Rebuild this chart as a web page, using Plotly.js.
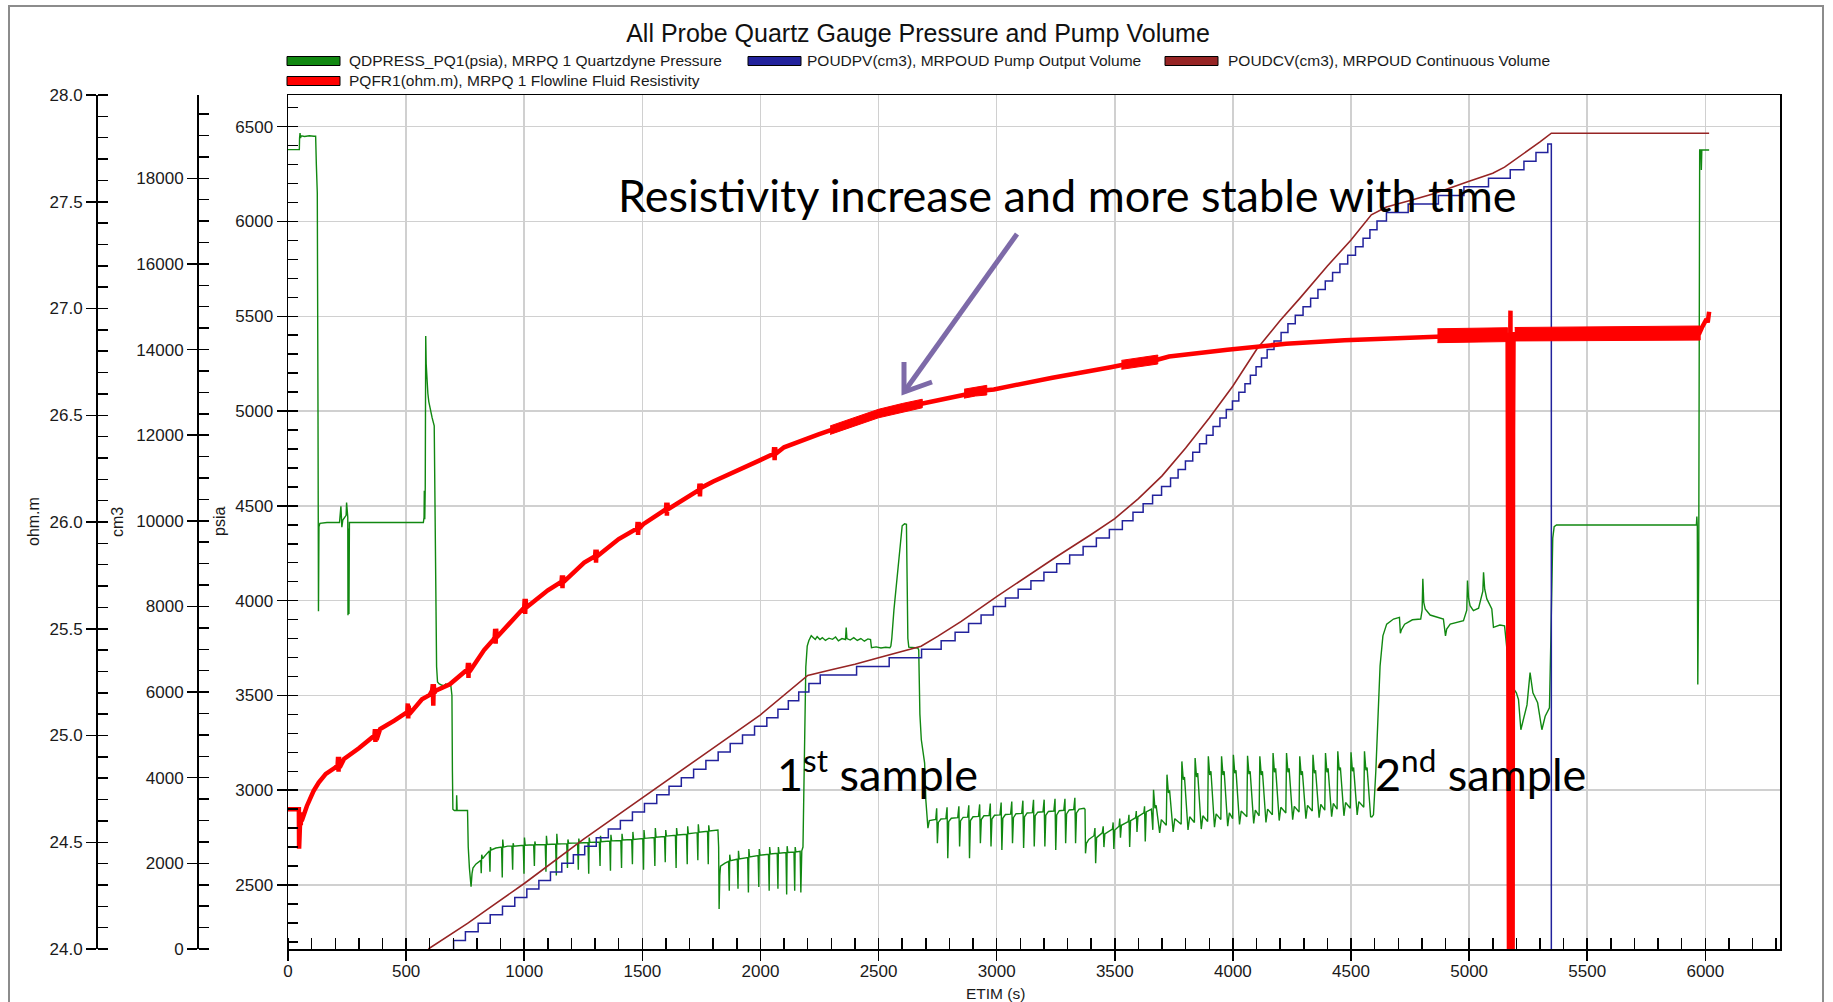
<!DOCTYPE html>
<html><head><meta charset="utf-8">
<script src="https://cdn.plot.ly/plotly-3.0.1.min.js"></script>
<style>html,body{margin:0;padding:0;background:#fff;} #chart{width:1833px;height:1002px;}</style>
</head><body><div id="chart"></div>
<script>
// ---------- DATA ----------
const chartTitle = 'All Probe Quartz Gauge Pressure and Pump Volume';
const seriesNames = [
  'QDPRESS_PQ1(psia), MRPQ 1 Quartzdyne Pressure',
  'POUDPV(cm3), MRPOUD Pump Output Volume',
  'POUDCV(cm3), MRPOUD Continuous Volume',
  'PQFR1(ohm.m), MRPQ 1 Flowline Fluid Resistivity'
];
const axisTitles = {x: 'ETIM (s)', psia: 'psia', cm3: 'cm3', ohm: 'ohm.m'};
const noteTexts = ['Resistivity increase and more stable with time', '1<sup>st</sup> sample', '2<sup>nd</sup> sample'];

// Quartzdyne pressure [time s, psia]
const pressure = [
[0,6379],[48,6379],[49,6440],[51,6466],[53,6440],[56,6452],[70,6448],[90,6452],[110,6450],[117,6450],[120,6300],[124,6150],[127,5000],[129,3944],[131,4390],[135,4408],
[165,4412],[200,4412],[218,4412],[224,4498],[226,4400],[228,4387],[232,4425],[240,4440],[246,4450],[248,4518],[250,4445],[253,4440],[254,3923],[256,4380],[258,3930],[260,4412],[300,4412],[400,4412],[500,4412],[573,4412],[576,4440],[577,4579],[579,4430],[581,4600],[583,5396],[585,5250],[587,5205],[590,5120],[592,5094],[596,5050],[601,5013],[610,4965],[619,4922],[622,4500],[625,4018],[629,3652],[633,3571],[639,3562],
[650,3555],[660,3550],[668,3560],[672,3548],[680,3552],[686,3565],[690,3545],[694,3500],[696,3100],[698,2900],[704,2893],[713,2893],[714,2973],[716,2893],[760,2893],[763,2700],[768,2589],[775,2491],
[779,2560],[783,2589],[795,2610],[811,2625],[816,2630],[818,2562],[820,2660],[824,2640],[840,2661],[852,2680],[855,2570],[857,2700],[860,2685],[880,2695],[904,2700],[907,2540],[909,2740],[912,2700],[930,2705],[948,2705],[951,2580],[953,2720],[956,2705],[975,2708],[996,2710],[999,2560],[1001,2750],[1004,2710],[1020,2712],[1040,2712],[1043,2600],[1045,2730],[1048,2712],[1070,2714],[1089,2714],[1092,2570],[1094,2760],[1097,2714],[1115,2716],[1133,2716],[1136,2550],[1138,2770],[1141,2716],[1160,2718],[1180,2718],[1183,2590],[1185,2740],[1188,2720],[1205,2720],[1226,2722],[1229,2580],[1231,2745],[1234,2722],[1250,2723],[1270,2724],[1273,2560],[1275,2750],[1278,2725],[1300,2726],[1318,2727],[1321,2600],[1323,2760],[1326,2728],[1345,2730],[1362,2732],[1365,2575],[1367,2765],[1370,2733],[1390,2735],[1409,2735],[1412,2590],[1414,2770],[1417,2737],[1435,2738],[1455,2740],[1458,2610],[1460,2780],[1463,2740],[1480,2742],[1502,2745],[1505,2580],[1507,2790],[1510,2746],[1530,2748],[1550,2750],[1553,2600],[1555,2800],[1558,2752],[1575,2754],[1594,2756],[1597,2620],[1599,2790],[1602,2758],[1620,2760],[1640,2762],[1643,2590],[1645,2800],[1648,2764],[1665,2766],[1687,2768],[1690,2610],[1692,2810],[1695,2770],[1715,2773],[1732,2776],[1735,2630],[1737,2820],[1740,2778],[1760,2781],[1776,2783],[1779,2610],[1781,2815],[1784,2785],[1800,2787],[1820,2790],
[1823,2700],[1825,2373],[1828,2550],[1831,2600],[1850,2615],[1865,2625],[1868,2470],[1870,2660],[1873,2628],[1890,2632],[1902,2636],[1905,2480],[1907,2680],[1910,2638],[1930,2642],[1946,2645],[1949,2460],[1951,2690],[1954,2648],[1975,2652],[1990,2655],[1993,2490],[1995,2690],[1998,2657],[2015,2660],[2034,2662],[2037,2470],[2039,2700],[2042,2664],[2060,2666],[2071,2667],[2074,2480],[2076,2700],[2079,2668],[2095,2670],[2108,2671],[2111,2450],[2113,2705],[2116,2672],[2130,2673],[2142,2674],[2145,2470],[2147,2700],[2150,2674],[2165,2676],
[2168,2678],[2171,2460],[2175,2680],[2180,2700],[2184,3000],[2188,3400],[2192,3650],[2198,3760],[2205,3790],[2215,3815],[2222,3805],[2232,3795],[2240,3810],[2252,3795],[2262,3805],[2275,3790],[2290,3802],[2305,3796],[2318,3808],[2330,3788],[2345,3800],[2360,3795],[2363,3858],[2366,3800],[2380,3792],[2395,3805],[2410,3790],[2425,3800],[2440,3786],[2455,3798],[2466,3795],[2470,3752],[2490,3756],[2510,3750],[2530,3754],[2548,3752],[2552,3760],[2556,3800],[2565,3950],[2580,4150],[2592,4330],[2600,4395],[2610,4405],[2618,4403],[2621,4100],[2624,3800],[2628,3755],[2650,3752],[2666,3750],[2670,3740],[2675,3400],[2681,3266],[2688,3200],[2695,3143],[2700,2950],[2709,2800],
[2715,2840],[2730,2845],[2742,2846],[2746,2905],[2749,2720],[2753,2830],[2764,2848],[2785,2850],[2790,2910],[2793,2641],[2797,2835],[2808,2852],[2835,2855],[2840,2915],[2843,2703],[2847,2838],[2858,2857],[2877,2858],[2882,2920],[2885,2641],[2889,2840],[2900,2860],[2923,2862],[2928,2925],[2931,2720],[2935,2845],[2946,2865],[2968,2866],[2973,2930],[2976,2703],[2980,2848],[2991,2868],[3014,2870],[3019,2935],[3022,2685],[3026,2852],[3037,2872],[3059,2874],[3064,2940],[3067,2720],[3071,2855],[3082,2876],[3106,2878],[3111,2945],[3114,2695],[3118,2860],[3129,2880],[3151,2882],[3156,2950],[3159,2703],[3163,2865],[3174,2884],[3196,2886],[3201,2950],[3204,2703],[3208,2868],[3219,2888],[3242,2890],[3247,2955],[3250,2685],[3254,2870],[3265,2892],[3284,2894],[3289,2955],[3292,2720],[3296,2875],[3307,2896],[3326,2898],[3331,2960],[3334,2720],[3338,2880],[3349,2900],[3370,2905],
[3374,2900],[3376,2667],[3380,2720],[3390,2740],[3412,2760],[3416,2800],[3419,2615],[3423,2750],[3447,2775],[3451,2810],[3454,2700],[3458,2770],[3490,2795],[3493,2830],[3496,2690],[3500,2790],[3518,2810],[3521,2850],[3524,2750],[3528,2815],[3557,2835],[3560,2870],[3563,2700],[3567,2840],[3588,2855],[3591,2890],[3594,2780],[3598,2860],[3623,2880],[3626,2915],[3629,2730],[3633,2885],[3655,2900],[3661,2791],
[3664,3002],[3670,2905],[3675,2920],[3690,2775],[3697,2845],[3718,2815],[3721,3082],[3727,2985],[3732,3000],[3747,2780],[3754,2850],[3781,2820],[3784,3152],[3790,3055],[3795,3070],[3810,2790],[3817,2860],[3837,2830],[3840,3170],[3846,3070],[3851,3090],[3866,2795],[3873,2865],[3893,2835],[3896,3179],[3902,3080],[3907,3100],[3922,2805],[3929,2875],[3949,2845],[3952,3179],[3958,3080],[3963,3100],[3978,2810],[3985,2880],[3999,2850],[4002,3187],[4008,3090],[4013,3105],[4028,2820],[4035,2890],[4059,2860],[4062,3182],[4068,3085],[4073,3100],[4088,2825],[4095,2895],[4111,2865],[4114,3179],[4120,3080],[4125,3100],[4140,2830],[4147,2900],[4167,2870],[4170,3196],[4176,3095],[4181,3115],[4196,2840],[4203,2910],[4224,2880],[4227,3196],[4233,3095],[4238,3115],[4253,2845],[4260,2915],[4280,2885],[4283,3179],[4289,3080],[4294,3100],[4309,2850],[4316,2920],[4336,2890],[4339,3187],[4345,3090],[4350,3105],[4365,2855],[4372,2925],[4389,2895],[4392,3196],[4398,3095],[4403,3115],[4418,2860],[4425,2930],[4441,2900],[4444,3205],[4450,3105],[4455,3120],[4470,2865],[4477,2935],[4497,2905],[4500,3200],[4506,3100],[4511,3120],[4526,2870],[4533,2940],[4554,2910],[4557,3205],[4563,3105],[4568,3120],[4583,2860],
[4588,2859],[4595,2870],[4605,3100],[4615,3400],[4623,3655],[4635,3814],[4651,3876],[4680,3903],[4705,3912],[4709,3828],[4713,3845],[4727,3876],[4760,3899],[4795,3903],[4801,3950],[4804,4115],[4808,3990],[4814,3956],[4835,3924],[4891,3903],[4900,3814],[4905,3850],[4920,3876],[4976,3894],[4990,3950],[4993,4106],[4998,4010],[5004,3973],[5018,3947],[5040,3960],[5058,4050],[5061,4150],[5066,4060],[5075,4009],[5096,3956],[5103,3859],[5130,3871],[5150,3867],[5160,3744],[5167,3584],[5175,3560],[5200,3514],[5209,3478],[5219,3319],[5230,3372],[5245,3450],[5258,3620],[5270,3514],[5290,3461],[5308,3319],[5322,3390],[5340,3434],[5346,3797],[5350,4168],[5354,4330],[5360,4390],[5370,4399],
[5600,4399],[5800,4400],[5962,4399],[5964,4443],[5966,4390],[5968,3558],[5972,4200],[5976,6377],[5981,6377],[5983,6272],[5985,6377],[6016,6377]
];

// Pump output volume: stroke times (s) and stepped volume (cm3)
const pumpStepTime = [701,
701,751,805,856,908,960,1011,1062,1111,1159,
1208,1256,1305,1356,1407,1458,1509,1561,1613,1665,
1717,1769,1821,1872,1924,1975,2027,2074,2118,2162,
2205,2253,2407,2545,2682,2765,2824,2881,2934,2986,
3037,3091,3145,3200,3254,3309,3366,3422,3477,3532,
3577,3620,3660,3698,3736,3768,3799,3830,3859,3888,
3916,3945,3972,3998,4025,4051,4074,4098,4121,4145,
4174,4204,4233,4264,4297,4329,4360,4391,4422,4453,
4486,4519,4551,4580,4610,4650,4742,4870,4978,5082,
5174,5232,5283,5333,
5348,5348];
const pumpStepVolume = [0,
200,400,600,800,1000,1200,1400,1600,1800,2000,
2200,2400,2600,2800,3000,3200,3400,3600,3800,4000,
4200,4400,4600,4800,5000,5200,5400,5600,5800,6000,
6200,6400,6600,6800,7000,7200,7400,7600,7800,8000,
8200,8400,8600,8800,9000,9200,9400,9600,9800,10000,
10200,10400,10600,10800,11000,11200,11400,11600,11800,12000,
12200,12400,12600,12800,13000,13200,13400,13600,13800,14000,
14200,14400,14600,14800,15000,15200,15400,15600,15800,16000,
16200,16400,16600,16800,17000,17200,17400,17600,17800,18000,
18200,18400,18600,18800,
18800,0];

// Continuous volume [time s, cm3]
const continuousVolume = [
[594,0],[650,200],[700,380],[760,600],[850,950],[1000,1530],[1250,2560],[1500,3540],[1750,4500],[2000,5470],[2100,5920],[2200,6390],
[2300,6520],[2400,6650],[2500,6800],[2600,6940],[2680,7070],[2750,7300],[2850,7650],[3000,8230],[3100,8600],[3250,9150],[3400,9680],
[3500,10050],[3600,10520],[3700,11050],[3800,11700],[3900,12400],[4000,13150],[4100,14000],[4200,14680],[4284,15201],[4400,15950],
[4500,16560],[4586,17146],[4650,17330],[4750,17480],[4850,17640],[5000,17930],[5100,18120],[5150,18260],[5200,18450],[5250,18650],
[5300,18850],[5348,19053],[6016,19053]
];

// Flowline fluid resistivity [time s, ohm.m] (centre line with short noise bursts)
const resistivity = [
[0,24.655],[46,24.655],[47,24.47],[48,24.60],
[52,24.62],[54,24.58],[56,24.64],[58,24.60],
[80,24.67],[108,24.74],[130,24.78],[160,24.82],[200,24.85],
[210,24.86],[212,24.90],[214,24.83],[216,24.90],[219,24.85],
[237,24.89],[300,24.94],[360,24.99],
[366,25.00],[368,25.03],[370,24.97],[372,25.03],[375,24.98],
[390,25.03],[450,25.07],[500,25.11],
[505,25.11],[507,25.15],[509,25.08],[511,25.14],[514,25.10],
[567,25.17],[600,25.19],[610,25.21],[613,25.24],[615,25.14],[617,25.24],[620,25.20],[625,25.21],[685,25.24],[754,25.30],
[760,25.31],[762,25.34],[764,25.27],[766,25.34],[769,25.30],
[830,25.40],[870,25.45],[875,25.46],[877,25.50],[879,25.43],[881,25.50],[884,25.46],[910,25.49],
[1000,25.60],[1002,25.64],[1004,25.57],[1006,25.64],[1009,25.60],
[1100,25.68],[1158,25.72],[1160,25.75],[1162,25.69],[1164,25.75],[1167,25.72],
[1254,25.81],[1300,25.84],[1302,25.87],[1304,25.81],[1306,25.87],[1309,25.84],
[1400,25.92],[1478,25.97],[1480,26.00],[1482,25.94],[1484,26.00],[1487,25.97],
[1504,25.99],[1600,26.06],[1602,26.09],[1604,26.03],[1606,26.09],[1609,26.06],
[1740,26.15],[1742,26.18],[1744,26.12],[1746,26.18],[1749,26.16],
[1800,26.19],[1999,26.29],[2056,26.32],[2058,26.35],[2060,26.29],[2062,26.35],[2065,26.32],
[2100,26.35],[2246,26.41],[2300,26.43],[2400,26.47],[2500,26.508],[2600,26.535],[2685,26.555],[2741,26.566],
[2865,26.60],[2955,26.617],[2988,26.621],[3236,26.676],[3483,26.725],[3530,26.735],[3680,26.76],[3730,26.775],[3977,26.807],[4225,26.835],[4472,26.851],[4720,26.862],[4866,26.872],
[5000,26.874],[5163,26.877],
[5169,23.8],[5171,26.42],[5173,23.8],[5175,26.99],[5177,23.8],[5179,26.42],[5181,23.8],[5184,23.8],[5186,26.42],[5188,26.88],
[5300,26.879],[5500,26.881],[5700,26.883],[5975,26.885],
[5985,26.91],[5995,26.93],[6005,26.95],[6010,26.935],[6016,26.985]
];
// Envelope of the noisy resistivity stretches (outline: upper edge forward, lower edge back)
const resistivityNoiseTime = [2295,2400,2500,2600,2685,2685,2600,2500,2400,2295,null,
  2862,2910,2958,2958,2910,2862,null,
  3528,3600,3682,3682,3600,3528,null,
  4866,5000,5163,5163,5000,4866,null,
  5193,5400,5600,5800,5978,5978,5800,5600,5400,5193];
const resistivityNoiseValue = [26.45,26.49,26.528,26.555,26.575,26.535,26.515,26.488,26.45,26.41,null,
  26.622,26.63,26.64,26.595,26.59,26.58,null,
  26.757,26.768,26.782,26.74,26.728,26.715,null,
  26.905,26.907,26.91,26.845,26.842,26.84,null,
  26.911,26.913,26.915,26.917,26.918,26.852,26.851,26.85,26.849,26.848];

const seriesColors = ['#118811', '#22229c', '#962424', '#ff0000'];

// ---------- LAYOUT HELPERS ----------
const W = 1833, H = 1002, M = {l: 0, r: 53, t: 95, b: 53};
const PW = W - M.l - M.r, PH = H - M.t - M.b;
const px = x => (x - M.l) / PW;
const py = y => (H - M.b - y) / PH;

const tickFont = {family: 'Liberation Sans, Arial, sans-serif', size: 17, color: '#1a1a1a'};
const legendFont = {family: 'Liberation Sans, Arial, sans-serif', size: 15.5, color: '#1a1a1a'};
const titleFont = {family: 'Liberation Sans, Arial, sans-serif', size: 16, color: '#1a1a1a'};
const noteFont = {family: 'Lato, Calibri, sans-serif', size: 45, color: '#000'};

const traces = [
  {x: pressure.map(p => p[0]), y: pressure.map(p => p[1]), name: seriesNames[0], yaxis: 'y', type: 'scatter', mode: 'lines',
   line: {color: seriesColors[0], width: 1.4}},
  {x: pumpStepTime, y: pumpStepVolume, name: seriesNames[1], yaxis: 'y2', type: 'scatter', mode: 'lines',
   line: {color: seriesColors[1], width: 1.5, shape: 'hv'}},
  {x: continuousVolume.map(p => p[0]), y: continuousVolume.map(p => p[1]), name: seriesNames[2], yaxis: 'y2', type: 'scatter', mode: 'lines',
   line: {color: seriesColors[2], width: 1.6}},
  {x: resistivityNoiseTime, y: resistivityNoiseValue, name: seriesNames[3], yaxis: 'y3', type: 'scatter', mode: 'lines',
   fill: 'toself', fillcolor: seriesColors[3], line: {color: seriesColors[3], width: 1}},
  {x: resistivity.map(p => p[0]), y: resistivity.map(p => p[1]), name: seriesNames[3], yaxis: 'y3', type: 'scatter', mode: 'lines',
   line: {color: seriesColors[3], width: 4.5}}
];

const axisCommon = {
  ticks: 'outside', ticklen: 10, tickwidth: 1.5, tickcolor: '#000',
  showline: true, linecolor: '#000', linewidth: 1.5, zeroline: false, tickfont: tickFont
};
const minorCommon = {ticks: 'inside', ticklen: 10, tickwidth: 1.5, tickcolor: '#000', showgrid: false};

// legend drawn as layout decoration
const legendItems = [
  {sx: 287, tx: 347, yc: 61},
  {sx: 748, tx: 805, yc: 61},
  {sx: 1165, tx: 1226, yc: 61},
  {sx: 287, tx: 347, yc: 81}
];
const shapes = [
  {type: 'rect', xref: 'paper', yref: 'paper', x0: px(9), x1: px(1823), y0: py(1012), y1: py(6),
   line: {color: '#8c8c8c', width: 2}, fillcolor: 'rgba(0,0,0,0)', layer: 'below'}
];
const annotations = [];
legendItems.forEach((it, i) => {
  shapes.push({type: 'rect', xref: 'paper', yref: 'paper', x0: px(it.sx), x1: px(it.sx + 53),
    y0: py(it.yc + 4.5), y1: py(it.yc - 4.5), fillcolor: seriesColors[i], line: {color: '#000', width: 1}});
  annotations.push({xref: 'paper', yref: 'paper', x: px(it.tx), y: py(it.yc), xanchor: 'left', yanchor: 'middle',
    text: seriesNames[i], showarrow: false, font: legendFont});
});
// arrow
const tail = [1017, 234], tip = [904, 392], armA = [904, 362], armB = [932, 382];
shapes.push({type: 'path', xref: 'paper', yref: 'paper',
  path: `M ${px(tail[0])},${py(tail[1])} L ${px(tip[0])},${py(tip[1])}`, line: {color: '#7d6aa8', width: 5}});
shapes.push({type: 'path', xref: 'paper', yref: 'paper',
  path: `M ${px(armA[0])},${py(armA[1])} L ${px(tip[0])},${py(tip[1])} L ${px(armB[0])},${py(armB[1])}`, line: {color: '#7d6aa8', width: 5}});

// axis titles
annotations.push({xref: 'paper', yref: 'paper', x: px(33), y: py(522), text: axisTitles.ohm, textangle: -90, showarrow: false, font: titleFont, xanchor: 'center', yanchor: 'middle'});
annotations.push({xref: 'paper', yref: 'paper', x: px(117), y: py(522), text: axisTitles.cm3, textangle: -90, showarrow: false, font: titleFont, xanchor: 'center', yanchor: 'middle'});
annotations.push({xref: 'paper', yref: 'paper', x: px(219), y: py(522), text: axisTitles.psia, textangle: -90, showarrow: false, font: titleFont, xanchor: 'center', yanchor: 'middle'});
annotations.push({xref: 'paper', yref: 'paper', x: px(995), y: py(993), text: axisTitles.x, showarrow: false, font: legendFont, xanchor: 'center', yanchor: 'middle'});
// notes
annotations.push({xref: 'paper', yref: 'paper', x: px(1067), y: py(195), text: noteTexts[0], showarrow: false, font: noteFont, xanchor: 'center', yanchor: 'middle'});
annotations.push({xref: 'paper', yref: 'paper', x: px(877), y: py(771), text: noteTexts[1], showarrow: false, font: noteFont, xanchor: 'center', yanchor: 'middle'});
annotations.push({xref: 'paper', yref: 'paper', x: px(1480), y: py(771), text: noteTexts[2], showarrow: false, font: noteFont, xanchor: 'center', yanchor: 'middle'});

const layout = {
  width: W, height: H, margin: M, paper_bgcolor: '#fff', plot_bgcolor: '#fff', showlegend: false,
  title: {text: chartTitle, x: 918 / W, xref: 'container', xanchor: 'center', y: 1 - 33 / H, yref: 'container', yanchor: 'middle',
    font: {family: 'Liberation Sans, Arial, sans-serif', size: 25, color: '#111'}},
  xaxis: Object.assign({}, axisCommon, {domain: [px(288), 1], range: [0, 6316], tickmode: 'linear', tick0: 0, dtick: 500,
    mirror: true, showgrid: true, gridcolor: '#d0d0d0', gridwidth: 1.5, ticklabelstandoff: -4,
    minor: Object.assign({}, minorCommon, {dtick: 100, tick0: 0, ticklen: 11})}),
  yaxis: Object.assign({}, axisCommon, {range: [2162.4, 6667.2], tickmode: 'linear', tick0: 0, dtick: 500,
    mirror: true, showgrid: true, gridcolor: '#d0d0d0', gridwidth: 1.5,
    minor: Object.assign({}, minorCommon, {dtick: 100, tick0: 0})}),
  yaxis2: Object.assign({}, axisCommon, {overlaying: 'y', anchor: 'free', position: px(197), side: 'left',
    range: [0, 19945], tickmode: 'linear', tick0: 0, dtick: 2000, tickformat: 'd', showgrid: false,
    minor: Object.assign({}, minorCommon, {dtick: 500, tick0: 0})}),
  yaxis3: Object.assign({}, axisCommon, {overlaying: 'y', anchor: 'free', position: px(96), side: 'left',
    range: [24, 28], tickmode: 'linear', tick0: 24, dtick: 0.5, tickformat: '.1f', showgrid: false,
    minor: Object.assign({}, minorCommon, {dtick: 0.1, tick0: 24})}),
  shapes: shapes,
  annotations: annotations
};

Plotly.newPlot('chart', traces, layout, {displayModeBar: false, staticPlot: true});
</script>
</body></html>
